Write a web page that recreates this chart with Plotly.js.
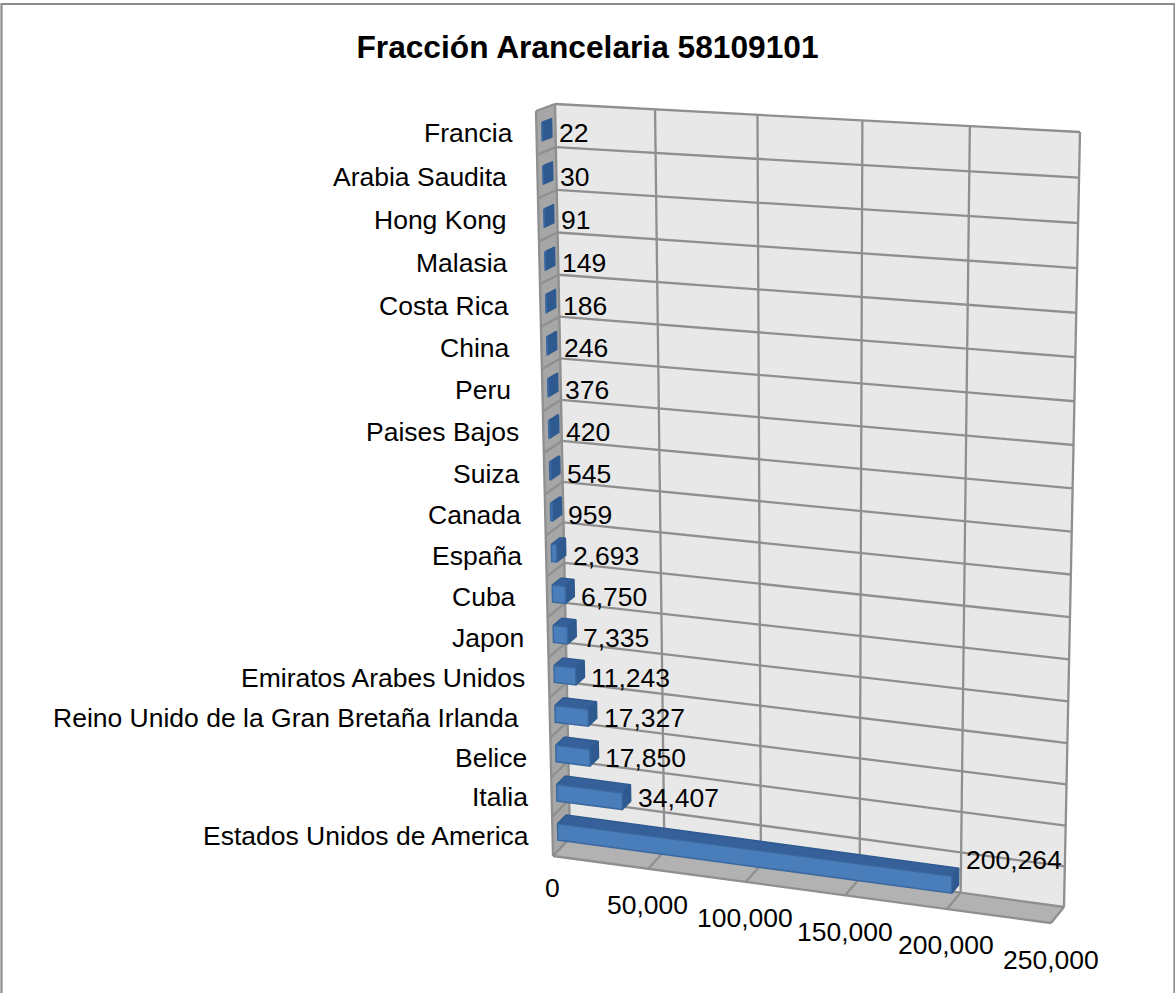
<!DOCTYPE html>
<html>
<head>
<meta charset="utf-8">
<script src="https://cdn.plot.ly/plotly-3.0.1.min.js"></script>
<style>html,body{margin:0;padding:0;background:#fff}#chart{width:1175px;height:993px}</style>
</head>
<body>
<div id="chart"></div>
<script>
// Export volume by destination country, tariff item 58109101 (top row first).
var countries = ['Francia','Arabia Saudita\u00a0','Hong Kong\u00a0','Malasia\u00a0','Costa Rica\u00a0','China\u00a0','Peru\u00a0',
  'Paises Bajos','Suiza','Canada','España','Cuba\u00a0','Japon','Emiratos Arabes Unidos',
  'Reino Unido de la Gran Bretaña Irlanda\u00a0','Belice','Italia','Estados Unidos de America'];
var values = [22,30,91,149,186,246,376,420,545,959,2693,6750,7335,11243,17327,17850,34407,200264];
var axisTicks = [0,50000,100000,150000,200000,250000];
var axisMax = 250000;

var FONT = 'Liberation Sans, Arial, sans-serif';
var TEXT_SIZE = 26.5;

// Perspective box: plane corners in page pixels, back wall and front plane of the 3-D frame.
var backPlane  = [[555,104],[1080,132],[1064,907],[570,838]];
var frontPlane = [[536,111],[1065,137],[1051,923],[553,856]];

// Unit-square to quadrilateral homography.
function planeMap(q){
  var x0=q[0][0],y0=q[0][1],x1=q[1][0],y1=q[1][1],x2=q[2][0],y2=q[2][1],x3=q[3][0],y3=q[3][1];
  var dx1=x1-x2,dx2=x3-x2,sx=x0-x1+x2-x3,dy1=y1-y2,dy2=y3-y2,sy=y0-y1+y2-y3;
  var den=dx1*dy2-dx2*dy1,g=(sx*dy2-dx2*sy)/den,h=(dx1*sy-sx*dy1)/den;
  var a=x1-x0+g*x1,b=x3-x0+h*x3,d=y1-y0+g*y1,e=y3-y0+h*y3;
  return function(u,v){var w=g*u+h*v+1;return [(a*u+b*v+x0)/w,(d*u+e*v+y0)/w];};
}
var backMap = planeMap(backPlane), frontMap = planeMap(frontPlane);

// value on the horizontal axis, row position (0 top..18 bottom), depth (0 back..1 front)
function project(value,row,depth){
  var u=value/axisMax,v=row/countries.length;
  var b=backMap(u,v),f=frontMap(u,v);
  return [b[0]+(f[0]-b[0])*depth,b[1]+(f[1]-b[1])*depth];
}

function polyTrace(polys,fill,edge,width){
  var xs=[],ys=[];
  polys.forEach(function(p){
    p.forEach(function(c){xs.push(c[0]);ys.push(c[1]);});
    xs.push(p[0][0]);ys.push(p[0][1]);
    xs.push(null);ys.push(null);
  });
  return {type:'scatter',mode:'lines',x:xs,y:ys,fill:'toself',fillcolor:fill,
    line:{color:edge,width:width},hoverinfo:'skip',showlegend:false};
}
function lineTrace(segs,color,width){
  var xs=[],ys=[];
  segs.forEach(function(s){xs.push(s[0][0],s[1][0],null);ys.push(s[0][1],s[1][1],null);});
  return {type:'scatter',mode:'lines',x:xs,y:ys,line:{color:color,width:width},
    hoverinfo:'skip',showlegend:false};
}

var n=countries.length, traces=[];

// Walls and floor
traces.push(polyTrace([[project(0,0,0),project(axisMax,0,0),project(axisMax,n,0),project(0,n,0)]],'#e8e8e8','#e8e8e8',0));
traces.push(polyTrace([[project(0,0,0),project(0,n,0),project(0,n,1),project(0,0,1)]],'#a6a6a6','#a6a6a6',0));
traces.push(polyTrace([[project(0,n,0),project(axisMax,n,0),project(axisMax,n,1),project(0,n,1)]],'#b2b2b2','#b2b2b2',0));

// Gridlines
var grid=[];
for(var r=0;r<=n;r++){
  grid.push([project(0,r,0),project(axisMax,r,0)]);
  grid.push([project(0,r,0),project(0,r,1)]);
}
axisTicks.forEach(function(t){
  grid.push([project(t,0,0),project(t,n,0)]);
  grid.push([project(t,n,0),project(t,n,1)]);
});
grid.push([project(0,0,1),project(0,n,1)]);
grid.push([project(0,n,1),project(axisMax,n,1)]);
traces.push(lineTrace(grid,'#8f8f8f',2.3));

// Bars: front face, top face and end cap
var DEPTH_BACK=0.2, DEPTH_FRONT=0.7, BAND_TOP=0.31, BAND_BOTTOM=0.73;
var fronts=[],tops=[],ends=[];
values.forEach(function(val,i){
  var t=i+BAND_TOP,b=i+BAND_BOTTOM;
  fronts.push([project(0,t,DEPTH_FRONT),project(val,t,DEPTH_FRONT),project(val,b,DEPTH_FRONT),project(0,b,DEPTH_FRONT)]);
  tops.push([project(0,t,DEPTH_BACK),project(val,t,DEPTH_BACK),project(val,t,DEPTH_FRONT),project(0,t,DEPTH_FRONT)]);
  ends.push([project(val,t,DEPTH_FRONT),project(val,t,DEPTH_BACK),project(val,b,DEPTH_BACK),project(val,b,DEPTH_FRONT)]);
});
traces.push(polyTrace(tops,'#36609a','#2f5a90',1.5));
traces.push(polyTrace(ends,'#2f5a90','#2f5a90',1.5));
traces.push(polyTrace(fronts,'#4a7ebb','#3a689f',1.5));

// Text labels
var annotations=[];
function addText(text,pos,anchor){
  annotations.push({text:text,x:pos[0],y:pos[1],xref:'x',yref:'y',showarrow:false,
    xanchor:anchor,yanchor:'middle',borderpad:0,
    font:{family:FONT,size:TEXT_SIZE,color:'#000'}});
}
countries.forEach(function(name,i){
  var p=project(0,i+0.5,1);
  addText(name,[p[0]-23,p[1]],'right');
});
values.forEach(function(val,i){
  var p=project(val,i+0.5,DEPTH_BACK), base=project(0,i+0.5,1);
  var lift=Math.pow(val/200264,2)*24;
  addText(val.toLocaleString('en-US'),[p[0]+6,base[1]+lift],'left');
});
axisTicks.forEach(function(t){
  var p=project(t,n,1);
  addText(t.toLocaleString('en-US'),[p[0]-0.5,p[1]+(t===0?32:36.5)],'center');
});

var layout={
  width:1175,height:993,
  margin:{l:0,r:0,t:0,b:0},
  paper_bgcolor:'#fff',plot_bgcolor:'#fff',
  title:{text:'<b>Fracción Arancelaria 58109101</b>',x:0.5,xanchor:'center',y:0.953,yanchor:'middle',
    font:{family:FONT,size:31.7,color:'#000'}},
  xaxis:{range:[0,1175],visible:false,fixedrange:true},
  yaxis:{range:[993,0],visible:false,fixedrange:true},
  showlegend:false,hovermode:false,
  annotations:annotations,
  shapes:[{type:'rect',xref:'x',yref:'y',x0:1.5,x1:1174.5,y0:4,y1:1004,
    line:{color:'#8c8c8c',width:2.2},layer:'above'}]
};
Plotly.newPlot('chart',traces,layout,{displayModeBar:false,staticPlot:true});
</script>
</body>
</html>
